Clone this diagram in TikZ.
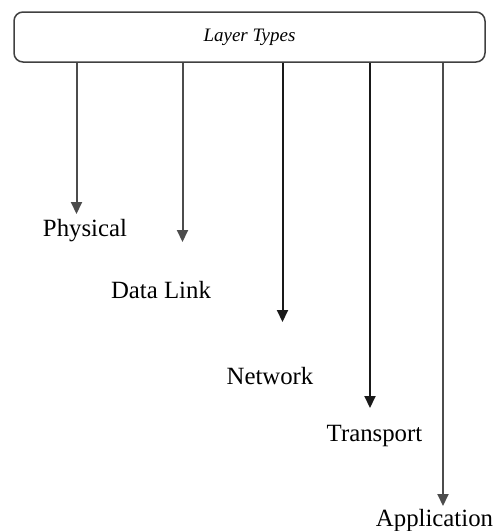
\documentclass[tikz,border=0pt]{standalone}
\usepackage{fontspec}
\setmainfont{Liberation Serif}
\usetikzlibrary{arrows.meta}
\begin{document}
\begin{tikzpicture}[x=0.5pt,y=-0.5pt,
  header/.style={draw=black!75,line width=0.75pt,rounded corners=4.5pt,
    minimum width=235.5pt,minimum height=25pt,inner sep=0pt,
    font=\fontsize{9.5}{11}\selectfont\itshape},
  layer/.style={inner sep=0pt,font=\fontsize{12.4}{14}\selectfont},
  link/.style={draw=black!70,line width=1pt,
    -{Triangle[width=5.5pt,length=6pt]}},
  darklink/.style={link,draw=black!90}]
\useasboundingbox (0,0) rectangle (500,531);
% header box
\node[header] (top) at (249.5,37) {Layer Types};
% tips of the arrows
\coordinate (t1) at (76.5,214);
\coordinate (t2) at (182.5,242);
\coordinate (t3) at (282.5,322);
\coordinate (t4) at (370,408);
\coordinate (t5) at (443,506);
% layer labels
\node[layer] (phy) at (85,231) {Physical};
\node[layer] (dl)  at (161,290) {Data Link};
\node[layer] (net) at (270,376) {Network};
\node[layer] (tr)  at (374.5,436) {Transport};
\node[layer] (app) at (434.5,521) {Application};
% connectors
\draw[link] (top.south -| t1) -- (t1);
\draw[link] (top.south -| t2) -- (t2);
\draw[darklink] (top.south -| t3) -- (t3);
\draw[darklink] (top.south -| t4) -- (t4);
\draw[link] (top.south -| t5) -- (t5);
\end{tikzpicture}
\end{document}
